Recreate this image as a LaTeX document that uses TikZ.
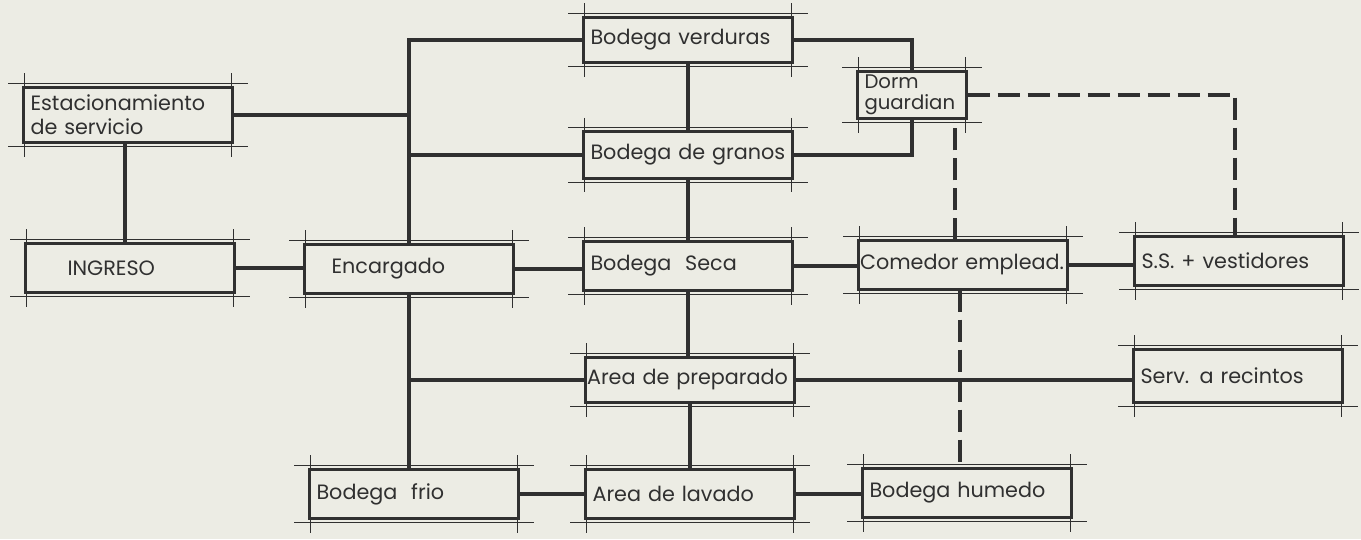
\documentclass[tikz,border=0pt]{standalone}
\usepackage{fontspec}
\setmainfont{Poppins}
\usetikzlibrary{positioning}
\definecolor{Paper}{HTML}{ECECE4}
\definecolor{Ink}{HTML}{303030}

\begin{document}
\begin{tikzpicture}[x=0.02cm, y=-0.02cm,
  room/.style={draw=Ink, line width=0.8pt, text width=3.9cm, minimum height=0.96cm, inner xsep=0.15cm, inner ysep=0pt, align=left, text=Ink, font=\fontsize{11.8}{13.6}\selectfont},
  tight/.style={text width=4.12cm, inner xsep=0.04cm},
  link/.style={draw=Ink, line width=2.8pt},
  dlink/.style={draw=Ink, line width=1.8pt, dash pattern=on 0.44cm off 0.16cm},
  rim/.style={draw=Ink, line width=1.8pt},
  tick/.style={draw=Ink, line width=0.5pt}]
\fill[Paper] (0,0) rectangle (1361,539);
\useasboundingbox (0,0) rectangle (1361,539);

% rooms
\node[room, minimum height=1.08cm] (est) at (128,115) {Estacionamiento\\de servicio};
\node[room] (ingreso) at (130,268) {\hspace*{0.7cm}INGRESO};
\node[room] (encargado) at (409,269) {\hspace*{0.4cm}Encargado};
\node[room, minimum height=0.88cm] (verduras) at (688,40) {Bodega verduras};
\node[room, minimum height=0.9cm] (granos) at (688,155) {Bodega de granos};
\node[room, text width=1.9cm, minimum height=0.92cm, font=\fontsize{11.2}{11.8}\selectfont] (dorm) at (912,95) {Dorm\\guardian};
\node[room] (seca) at (688,266) {Bodega~~Seca};
\node[room, tight] (comedor) at (963,265) {Comedor emplead.};
\node[room] (ss) at (1239,261) {S.S. + vestidores};
\node[room, tight, minimum height=0.88cm] (prep) at (690,380) {Area de preparado};
\node[room, minimum height=1.04cm] (serv) at (1238,376) {Serv. a recintos};
\node[room] (frio) at (414,494) {Bodega~~frio};
\node[room] (lavado) at (690,494) {Area de lavado};
\node[room] (humedo) at (967,493) {Bodega humedo};

% connectors
\draw[link] (verduras.west) -| (encargado.north);
\draw[link] (est.east) -- (est.east -| encargado.north);
\draw[link] (granos.west) -- (granos.west -| encargado.north);
\draw[link] ([xshift=-0.06cm]est.south) -- ([xshift=-0.06cm]est.south |- ingreso.north);
\draw[link] (ingreso.east) -- (ingreso.east -| encargado.west);
\draw[link] (encargado.east) -- (encargado.east -| seca.west);
\draw[link] (encargado.south) -- (encargado.south |- frio.north);
\draw[link] (prep.west) -- (prep.west -| encargado.south);
\draw[link] (verduras.south) -- (granos.north);
\draw[link] (granos.south) -- (seca.north);
\draw[link] (seca.south) -- (seca.south |- prep.north);
\draw[link] (prep.south) -- (lavado.north);
\draw[link] (verduras.east) -| (dorm.north);
\draw[link] (granos.east) -| (dorm.south);
\draw[link] (seca.east) -- (seca.east -| comedor.west);
\draw[link] (comedor.east) -- (comedor.east -| ss.west);
\draw[link] (prep.east) -- (prep.east -| serv.west);
\draw[link] (frio.east) -- (frio.east -| lavado.west);
\draw[link] (lavado.east) -- (lavado.east -| humedo.west);
\draw[dlink] (dorm.east) -| ([xshift=-0.08cm]ss.north);
\draw[dlink] ([xshift=-0.16cm]comedor.north) -- ([xshift=-0.16cm]comedor.north |- dorm.south);
\draw[dlink] ([xshift=-0.06cm]comedor.south) -- ([xshift=-0.06cm]comedor.south |- humedo.north);

% sketchy rims
\foreach \n in {est,ingreso,encargado,verduras,granos,dorm,seca,comedor,ss,prep,serv,frio,lavado,humedo} {
  \draw[rim] (\n.north west) -- (\n.north east);
  \draw[rim] (\n.south west) -- (\n.south east);
  \draw[tick] ([shift={(-14,-4)}]\n.north west) -- ([shift={(14,-4)}]\n.north east);
  \draw[tick] ([shift={(-14,4)}]\n.south west) -- ([shift={(14,4)}]\n.south east);
  \draw[tick] ([shift={(2,-14)}]\n.north west) -- ([shift={(2,14)}]\n.south west);
  \draw[tick] ([shift={(-2,-14)}]\n.north east) -- ([shift={(-2,14)}]\n.south east);
}
\end{tikzpicture}
\end{document}
